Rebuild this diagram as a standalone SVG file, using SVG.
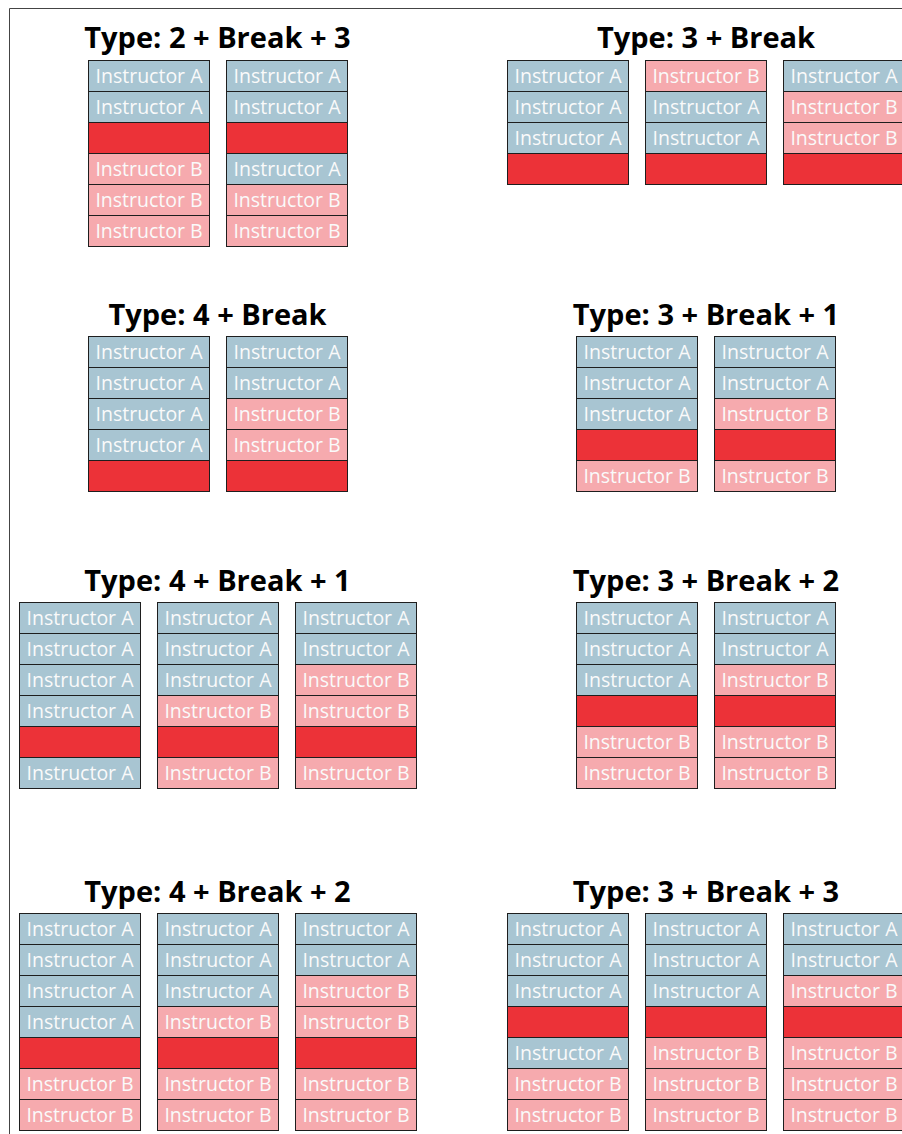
<svg xmlns="http://www.w3.org/2000/svg" width="902" height="1134" viewBox="0 0 902 1134">
<style>
.frame{stroke:#444;stroke-width:1;fill:none}
.a{fill:#a8c5d2;stroke:#1e1e1e;stroke-width:1}
.b{fill:#f6aaae;stroke:#1e1e1e;stroke-width:1}
.r{fill:#ec3238;stroke:#1e1e1e;stroke-width:1}
.t{fill:#fafafa;font-family:"Open Sans","DejaVu Sans",sans-serif;font-size:19.5px;text-anchor:middle}
.h{fill:#000;font-family:"Open Sans","DejaVu Sans",sans-serif;font-weight:bold;font-size:29px;text-anchor:middle}
</style>
<rect width="902" height="1134" fill="#fff"/>
<path class="frame" d="M9.5 1134V8.5H902"/>

<g id="type-2-break-3">
<text class="h" x="217.5" y="48.3">Type: 2 + Break + 3</text>
<g transform="translate(88.5,60.5)">
<rect class="a" x="0" y="0" width="121" height="31"/><text class="t" x="60.5" y="22">Instructor A</text>
<rect class="a" x="0" y="31" width="121" height="31"/><text class="t" x="60.5" y="53">Instructor A</text>
<rect class="r" x="0" y="62" width="121" height="31"/>
<rect class="b" x="0" y="93" width="121" height="31"/><text class="t" x="60.5" y="115">Instructor B</text>
<rect class="b" x="0" y="124" width="121" height="31"/><text class="t" x="60.5" y="146">Instructor B</text>
<rect class="b" x="0" y="155" width="121" height="31"/><text class="t" x="60.5" y="177">Instructor B</text>
</g>
<g transform="translate(226.5,60.5)">
<rect class="a" x="0" y="0" width="121" height="31"/><text class="t" x="60.5" y="22">Instructor A</text>
<rect class="a" x="0" y="31" width="121" height="31"/><text class="t" x="60.5" y="53">Instructor A</text>
<rect class="r" x="0" y="62" width="121" height="31"/>
<rect class="a" x="0" y="93" width="121" height="31"/><text class="t" x="60.5" y="115">Instructor A</text>
<rect class="b" x="0" y="124" width="121" height="31"/><text class="t" x="60.5" y="146">Instructor B</text>
<rect class="b" x="0" y="155" width="121" height="31"/><text class="t" x="60.5" y="177">Instructor B</text>
</g>
</g>

<g id="type-3-break">
<text class="h" x="706" y="48.3">Type: 3 + Break</text>
<g transform="translate(507.5,60.5)">
<rect class="a" x="0" y="0" width="121" height="31"/><text class="t" x="60.5" y="22">Instructor A</text>
<rect class="a" x="0" y="31" width="121" height="31"/><text class="t" x="60.5" y="53">Instructor A</text>
<rect class="a" x="0" y="62" width="121" height="31"/><text class="t" x="60.5" y="84">Instructor A</text>
<rect class="r" x="0" y="93" width="121" height="31"/>
</g>
<g transform="translate(645.5,60.5)">
<rect class="b" x="0" y="0" width="121" height="31"/><text class="t" x="60.5" y="22">Instructor B</text>
<rect class="a" x="0" y="31" width="121" height="31"/><text class="t" x="60.5" y="53">Instructor A</text>
<rect class="a" x="0" y="62" width="121" height="31"/><text class="t" x="60.5" y="84">Instructor A</text>
<rect class="r" x="0" y="93" width="121" height="31"/>
</g>
<g transform="translate(783.5,60.5)">
<rect class="a" x="0" y="0" width="121" height="31"/><text class="t" x="60.5" y="22">Instructor A</text>
<rect class="b" x="0" y="31" width="121" height="31"/><text class="t" x="60.5" y="53">Instructor B</text>
<rect class="b" x="0" y="62" width="121" height="31"/><text class="t" x="60.5" y="84">Instructor B</text>
<rect class="r" x="0" y="93" width="121" height="31"/>
</g>
</g>

<g id="type-4-break">
<text class="h" x="217.5" y="324.5">Type: 4 + Break</text>
<g transform="translate(88.5,336.5)">
<rect class="a" x="0" y="0" width="121" height="31"/><text class="t" x="60.5" y="22">Instructor A</text>
<rect class="a" x="0" y="31" width="121" height="31"/><text class="t" x="60.5" y="53">Instructor A</text>
<rect class="a" x="0" y="62" width="121" height="31"/><text class="t" x="60.5" y="84">Instructor A</text>
<rect class="a" x="0" y="93" width="121" height="31"/><text class="t" x="60.5" y="115">Instructor A</text>
<rect class="r" x="0" y="124" width="121" height="31"/>
</g>
<g transform="translate(226.5,336.5)">
<rect class="a" x="0" y="0" width="121" height="31"/><text class="t" x="60.5" y="22">Instructor A</text>
<rect class="a" x="0" y="31" width="121" height="31"/><text class="t" x="60.5" y="53">Instructor A</text>
<rect class="b" x="0" y="62" width="121" height="31"/><text class="t" x="60.5" y="84">Instructor B</text>
<rect class="b" x="0" y="93" width="121" height="31"/><text class="t" x="60.5" y="115">Instructor B</text>
<rect class="r" x="0" y="124" width="121" height="31"/>
</g>
</g>

<g id="type-3-break-1">
<text class="h" x="706" y="324.5">Type: 3 + Break + 1</text>
<g transform="translate(576.5,336.5)">
<rect class="a" x="0" y="0" width="121" height="31"/><text class="t" x="60.5" y="22">Instructor A</text>
<rect class="a" x="0" y="31" width="121" height="31"/><text class="t" x="60.5" y="53">Instructor A</text>
<rect class="a" x="0" y="62" width="121" height="31"/><text class="t" x="60.5" y="84">Instructor A</text>
<rect class="r" x="0" y="93" width="121" height="31"/>
<rect class="b" x="0" y="124" width="121" height="31"/><text class="t" x="60.5" y="146">Instructor B</text>
</g>
<g transform="translate(714.5,336.5)">
<rect class="a" x="0" y="0" width="121" height="31"/><text class="t" x="60.5" y="22">Instructor A</text>
<rect class="a" x="0" y="31" width="121" height="31"/><text class="t" x="60.5" y="53">Instructor A</text>
<rect class="b" x="0" y="62" width="121" height="31"/><text class="t" x="60.5" y="84">Instructor B</text>
<rect class="r" x="0" y="93" width="121" height="31"/>
<rect class="b" x="0" y="124" width="121" height="31"/><text class="t" x="60.5" y="146">Instructor B</text>
</g>
</g>

<g id="type-4-break-1">
<text class="h" x="217.5" y="590.7">Type: 4 + Break + 1</text>
<g transform="translate(19.5,602.5)">
<rect class="a" x="0" y="0" width="121" height="31"/><text class="t" x="60.5" y="22">Instructor A</text>
<rect class="a" x="0" y="31" width="121" height="31"/><text class="t" x="60.5" y="53">Instructor A</text>
<rect class="a" x="0" y="62" width="121" height="31"/><text class="t" x="60.5" y="84">Instructor A</text>
<rect class="a" x="0" y="93" width="121" height="31"/><text class="t" x="60.5" y="115">Instructor A</text>
<rect class="r" x="0" y="124" width="121" height="31"/>
<rect class="a" x="0" y="155" width="121" height="31"/><text class="t" x="60.5" y="177">Instructor A</text>
</g>
<g transform="translate(157.5,602.5)">
<rect class="a" x="0" y="0" width="121" height="31"/><text class="t" x="60.5" y="22">Instructor A</text>
<rect class="a" x="0" y="31" width="121" height="31"/><text class="t" x="60.5" y="53">Instructor A</text>
<rect class="a" x="0" y="62" width="121" height="31"/><text class="t" x="60.5" y="84">Instructor A</text>
<rect class="b" x="0" y="93" width="121" height="31"/><text class="t" x="60.5" y="115">Instructor B</text>
<rect class="r" x="0" y="124" width="121" height="31"/>
<rect class="b" x="0" y="155" width="121" height="31"/><text class="t" x="60.5" y="177">Instructor B</text>
</g>
<g transform="translate(295.5,602.5)">
<rect class="a" x="0" y="0" width="121" height="31"/><text class="t" x="60.5" y="22">Instructor A</text>
<rect class="a" x="0" y="31" width="121" height="31"/><text class="t" x="60.5" y="53">Instructor A</text>
<rect class="b" x="0" y="62" width="121" height="31"/><text class="t" x="60.5" y="84">Instructor B</text>
<rect class="b" x="0" y="93" width="121" height="31"/><text class="t" x="60.5" y="115">Instructor B</text>
<rect class="r" x="0" y="124" width="121" height="31"/>
<rect class="b" x="0" y="155" width="121" height="31"/><text class="t" x="60.5" y="177">Instructor B</text>
</g>
</g>

<g id="type-3-break-2">
<text class="h" x="706" y="590.7">Type: 3 + Break + 2</text>
<g transform="translate(576.5,602.5)">
<rect class="a" x="0" y="0" width="121" height="31"/><text class="t" x="60.5" y="22">Instructor A</text>
<rect class="a" x="0" y="31" width="121" height="31"/><text class="t" x="60.5" y="53">Instructor A</text>
<rect class="a" x="0" y="62" width="121" height="31"/><text class="t" x="60.5" y="84">Instructor A</text>
<rect class="r" x="0" y="93" width="121" height="31"/>
<rect class="b" x="0" y="124" width="121" height="31"/><text class="t" x="60.5" y="146">Instructor B</text>
<rect class="b" x="0" y="155" width="121" height="31"/><text class="t" x="60.5" y="177">Instructor B</text>
</g>
<g transform="translate(714.5,602.5)">
<rect class="a" x="0" y="0" width="121" height="31"/><text class="t" x="60.5" y="22">Instructor A</text>
<rect class="a" x="0" y="31" width="121" height="31"/><text class="t" x="60.5" y="53">Instructor A</text>
<rect class="b" x="0" y="62" width="121" height="31"/><text class="t" x="60.5" y="84">Instructor B</text>
<rect class="r" x="0" y="93" width="121" height="31"/>
<rect class="b" x="0" y="124" width="121" height="31"/><text class="t" x="60.5" y="146">Instructor B</text>
<rect class="b" x="0" y="155" width="121" height="31"/><text class="t" x="60.5" y="177">Instructor B</text>
</g>
</g>

<g id="type-4-break-2">
<text class="h" x="217.5" y="901.7">Type: 4 + Break + 2</text>
<g transform="translate(19.5,913.5)">
<rect class="a" x="0" y="0" width="121" height="31"/><text class="t" x="60.5" y="22">Instructor A</text>
<rect class="a" x="0" y="31" width="121" height="31"/><text class="t" x="60.5" y="53">Instructor A</text>
<rect class="a" x="0" y="62" width="121" height="31"/><text class="t" x="60.5" y="84">Instructor A</text>
<rect class="a" x="0" y="93" width="121" height="31"/><text class="t" x="60.5" y="115">Instructor A</text>
<rect class="r" x="0" y="124" width="121" height="31"/>
<rect class="b" x="0" y="155" width="121" height="31"/><text class="t" x="60.5" y="177">Instructor B</text>
<rect class="b" x="0" y="186" width="121" height="31"/><text class="t" x="60.5" y="208">Instructor B</text>
</g>
<g transform="translate(157.5,913.5)">
<rect class="a" x="0" y="0" width="121" height="31"/><text class="t" x="60.5" y="22">Instructor A</text>
<rect class="a" x="0" y="31" width="121" height="31"/><text class="t" x="60.5" y="53">Instructor A</text>
<rect class="a" x="0" y="62" width="121" height="31"/><text class="t" x="60.5" y="84">Instructor A</text>
<rect class="b" x="0" y="93" width="121" height="31"/><text class="t" x="60.5" y="115">Instructor B</text>
<rect class="r" x="0" y="124" width="121" height="31"/>
<rect class="b" x="0" y="155" width="121" height="31"/><text class="t" x="60.5" y="177">Instructor B</text>
<rect class="b" x="0" y="186" width="121" height="31"/><text class="t" x="60.5" y="208">Instructor B</text>
</g>
<g transform="translate(295.5,913.5)">
<rect class="a" x="0" y="0" width="121" height="31"/><text class="t" x="60.5" y="22">Instructor A</text>
<rect class="a" x="0" y="31" width="121" height="31"/><text class="t" x="60.5" y="53">Instructor A</text>
<rect class="b" x="0" y="62" width="121" height="31"/><text class="t" x="60.5" y="84">Instructor B</text>
<rect class="b" x="0" y="93" width="121" height="31"/><text class="t" x="60.5" y="115">Instructor B</text>
<rect class="r" x="0" y="124" width="121" height="31"/>
<rect class="b" x="0" y="155" width="121" height="31"/><text class="t" x="60.5" y="177">Instructor B</text>
<rect class="b" x="0" y="186" width="121" height="31"/><text class="t" x="60.5" y="208">Instructor B</text>
</g>
</g>

<g id="type-3-break-3">
<text class="h" x="706" y="901.7">Type: 3 + Break + 3</text>
<g transform="translate(507.5,913.5)">
<rect class="a" x="0" y="0" width="121" height="31"/><text class="t" x="60.5" y="22">Instructor A</text>
<rect class="a" x="0" y="31" width="121" height="31"/><text class="t" x="60.5" y="53">Instructor A</text>
<rect class="a" x="0" y="62" width="121" height="31"/><text class="t" x="60.5" y="84">Instructor A</text>
<rect class="r" x="0" y="93" width="121" height="31"/>
<rect class="a" x="0" y="124" width="121" height="31"/><text class="t" x="60.5" y="146">Instructor A</text>
<rect class="b" x="0" y="155" width="121" height="31"/><text class="t" x="60.5" y="177">Instructor B</text>
<rect class="b" x="0" y="186" width="121" height="31"/><text class="t" x="60.5" y="208">Instructor B</text>
</g>
<g transform="translate(645.5,913.5)">
<rect class="a" x="0" y="0" width="121" height="31"/><text class="t" x="60.5" y="22">Instructor A</text>
<rect class="a" x="0" y="31" width="121" height="31"/><text class="t" x="60.5" y="53">Instructor A</text>
<rect class="a" x="0" y="62" width="121" height="31"/><text class="t" x="60.5" y="84">Instructor A</text>
<rect class="r" x="0" y="93" width="121" height="31"/>
<rect class="b" x="0" y="124" width="121" height="31"/><text class="t" x="60.5" y="146">Instructor B</text>
<rect class="b" x="0" y="155" width="121" height="31"/><text class="t" x="60.5" y="177">Instructor B</text>
<rect class="b" x="0" y="186" width="121" height="31"/><text class="t" x="60.5" y="208">Instructor B</text>
</g>
<g transform="translate(783.5,913.5)">
<rect class="a" x="0" y="0" width="121" height="31"/><text class="t" x="60.5" y="22">Instructor A</text>
<rect class="a" x="0" y="31" width="121" height="31"/><text class="t" x="60.5" y="53">Instructor A</text>
<rect class="b" x="0" y="62" width="121" height="31"/><text class="t" x="60.5" y="84">Instructor B</text>
<rect class="r" x="0" y="93" width="121" height="31"/>
<rect class="b" x="0" y="124" width="121" height="31"/><text class="t" x="60.5" y="146">Instructor B</text>
<rect class="b" x="0" y="155" width="121" height="31"/><text class="t" x="60.5" y="177">Instructor B</text>
<rect class="b" x="0" y="186" width="121" height="31"/><text class="t" x="60.5" y="208">Instructor B</text>
</g>
</g>
</svg>
